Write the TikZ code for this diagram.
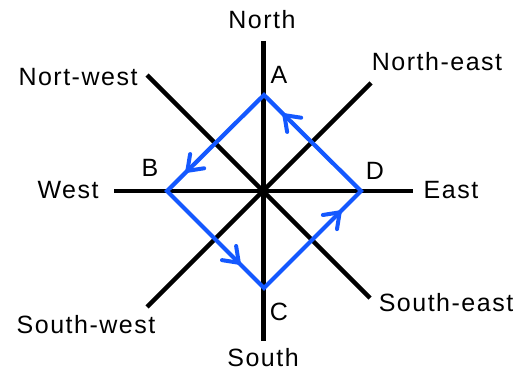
\documentclass[tikz,border=0pt]{standalone}
\usepackage{fontspec}
\setmainfont{Liberation Sans}[LetterSpace=6]
\usetikzlibrary{calc}
\definecolor{sqblue}{RGB}{20,88,255}
\begin{document}
\begin{tikzpicture}[x=1pt,y=-1pt,
  axis/.style={line width=4.4pt,black},
  sqline/.style={line width=4.2pt,sqblue,line join=miter},
  barb/.style={line width=4pt,sqblue,line cap=round,line join=miter},
  lbl/.style={font=\fontsize{25}{30}\selectfont,inner sep=0pt,text=black}]
\fill[white] (0,0) rectangle (521,371);
\useasboundingbox (0,0) rectangle (521,371);
% axes
\coordinate (O) at (263.5,191);
\coordinate (n) at (263.5,41);
\coordinate (s) at (263.5,341);
\coordinate (w) at (114,191);
\coordinate (e) at (413,191);
\coordinate (nw) at (147,75);
\coordinate (se) at (370,298);
\coordinate (ne) at (371,83);
\coordinate (sw) at (147,307);
\draw[axis] (n) -- (s);
\draw[axis] (w) -- (e);
\draw[axis] (nw) -- (se);
\draw[axis] (ne) -- (sw);
% square
\coordinate (A) at (264,95);
\coordinate (B) at (167,191);
\coordinate (C) at (264,288);
\coordinate (D) at (361,191);
\draw[sqline] (A) -- (B) -- (C) -- (D) -- cycle;
% arrow tips (open V)
\foreach \p/\q/\f in {A/B/0.79, B/C/0.74, C/D/0.78, D/A/0.79}{
  \coordinate (t\p) at ($(\p)!\f!(\q)$);
  \draw[barb] ($(t\p)!17pt!36:(\p)$) -- (t\p) -- ($(t\p)!17pt!-36:(\p)$);
}
% labels
\node[lbl] (lN) at (262,20) {North};
\node[lbl] (lNW) at (78,77) {Nort-west};
\node[lbl] (lNE) at (437,62) {North-east};
\node[lbl] (lW) at (68,190) {West};
\node[lbl] (lE) at (451,190) {East};
\node[lbl] (lSW) at (86,325) {South-west};
\node[lbl] (lSE) at (446,303) {South-east};
\node[lbl] (lS) at (263,358) {South};
\node[lbl] (lA) at (279,75) {A};
\node[lbl] (lB) at (150,168) {B};
\node[lbl] (lD) at (375,171) {D};
\node[lbl] (lC) at (279,312) {C};
\end{tikzpicture}
\end{document}
